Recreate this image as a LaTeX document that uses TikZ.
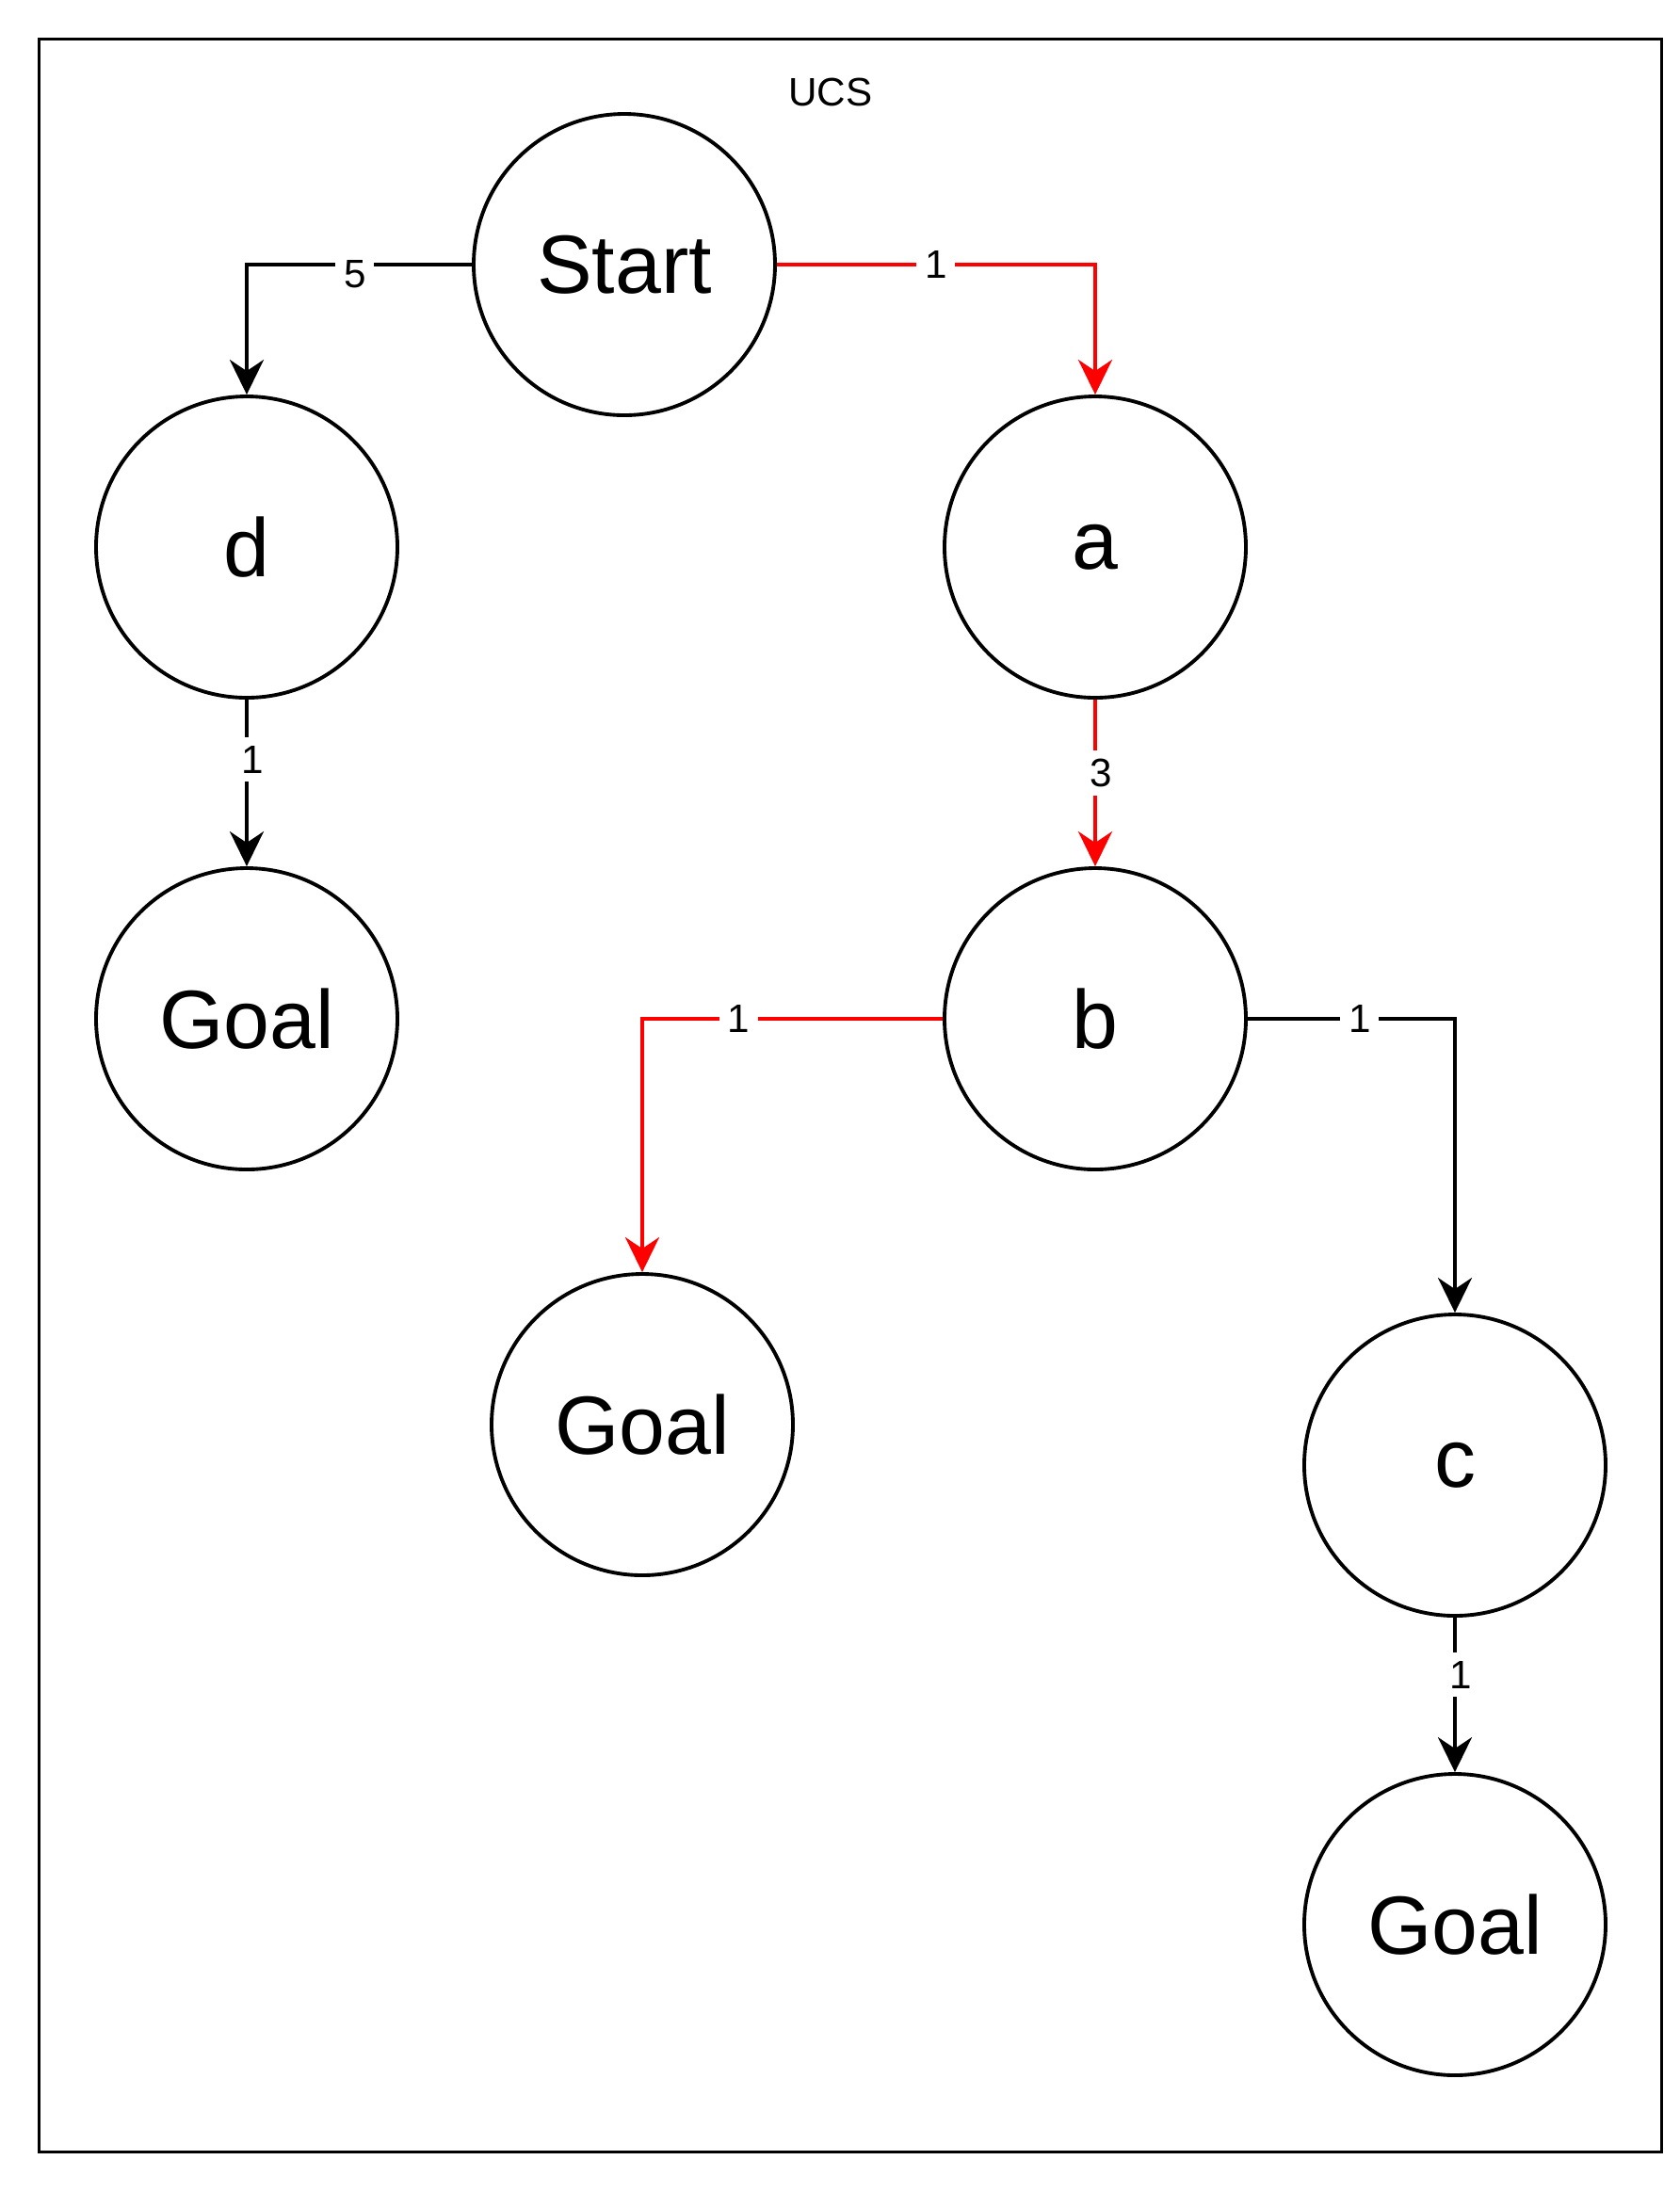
\documentclass[tikz,border=0pt]{standalone}
\usepackage{fontspec}
\setmainfont{Liberation Sans}
\usetikzlibrary{arrows.meta}
\tikzset{
    state/.style={circle, draw, line width=1.1pt, minimum size=3.2cm, inner sep=0pt,
        font=\fontsize{25}{25}\selectfont},
    edge/.style={line width=1.1pt, -{Stealth[length=3.7mm, width=3.6mm, inset=1.2mm]}},
    path edge/.style={edge, color=red},
    cost/.style={fill=white, text=black, inner sep=2.5pt, font=\fontsize{12}{12}\selectfont},
}

\begin{document}
\begin{tikzpicture}
    \useasboundingbox (0,0) rectangle (17.84,-23.28);
    \draw[line width=0.85pt] (0.416,-0.416) rectangle (17.647,-22.85);
    \node (title) at (8.82,-0.98) {\fontsize{12}{12}\selectfont UCS};
    %nodes
    \node[state] (start) at (6.63,-2.81) {Start};
    \node[state] (d) at (2.62,-5.81) {d};
    \node[state] (a) at (11.63,-5.81) {a};
    \node[state] (goal1) at (2.62,-10.82) {Goal};
    \node[state] (b) at (11.63,-10.82) {b};
    \node[state] (goal2) at (6.82,-15.13) {Goal};
    \node[state] (c) at (15.45,-15.56) {c};
    \node[state] (goal3) at (15.45,-20.44) {Goal};
    %edges
    \draw[edge] (start.west) -| node[cost, pos=0.26, yshift=-1mm, inner ysep=1pt] {5} (d.north);
    \draw[path edge] (start.east) -| node[cost, pos=0.25, inner ysep=1pt] {1} (a.north);
    \draw[edge] (d.south) -- node[cost, pos=0.36, xshift=0.6mm] {1} (goal1.north);
    \draw[path edge] (a.south) -- node[cost, pos=0.44, xshift=0.6mm] {3} (b.north);
    \draw[path edge] (b.west) -| node[cost, pos=0.34, inner ysep=1pt] {1} (goal2.north);
    \draw[edge] (b.east) -| node[cost, pos=0.27, inner ysep=1pt] {1} (c.north);
    \draw[edge] (c.south) -- node[cost, pos=0.37, xshift=0.6mm] {1} (goal3.north);
\end{tikzpicture}
\end{document}
